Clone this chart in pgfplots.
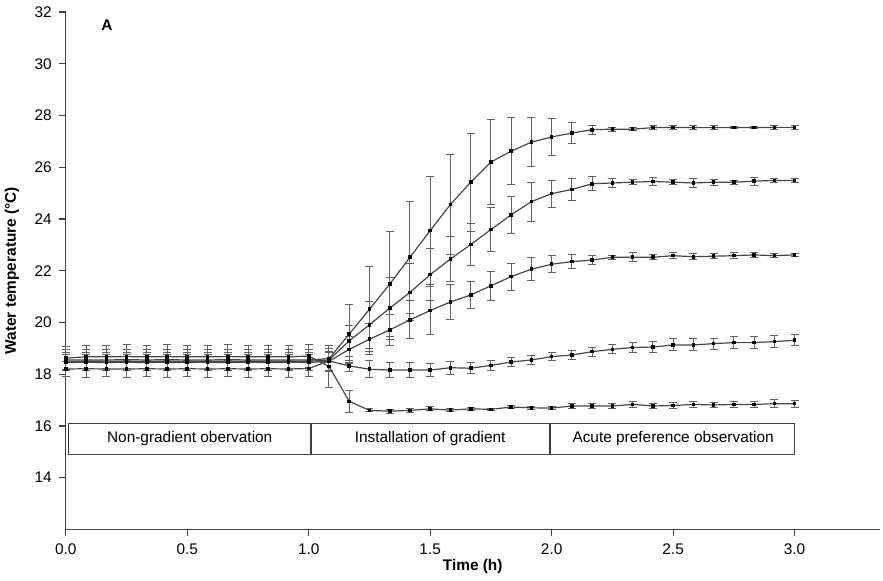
\documentclass[border=0pt]{standalone}
\usepackage{pgfplots}
\usepackage{pgfplotstable}
\pgfplotsset{compat=1.18}
\usepackage{fontspec}
\setmainfont{Liberation Sans}

\pgfplotstableread{
x      a     ea    b     eb    c     ec    d     ed    e     ee
0.0000 18.55 0.40  18.48 0.35  18.45 0.30  18.20 0.30  18.62 0.45
0.0833 18.55 0.40  18.50 0.35  18.46 0.30  18.21 0.32  18.67 0.45
0.1667 18.55 0.40  18.50 0.35  18.45 0.30  18.20 0.30  18.67 0.45
0.2500 18.56 0.40  18.50 0.35  18.46 0.30  18.20 0.32  18.68 0.45
0.3333 18.55 0.40  18.50 0.35  18.45 0.30  18.21 0.30  18.67 0.45
0.4167 18.56 0.40  18.50 0.35  18.46 0.30  18.20 0.32  18.68 0.45
0.5000 18.55 0.40  18.50 0.35  18.45 0.30  18.21 0.30  18.67 0.45
0.5833 18.55 0.40  18.50 0.35  18.46 0.30  18.20 0.32  18.67 0.45
0.6667 18.56 0.40  18.50 0.35  18.45 0.30  18.21 0.30  18.68 0.45
0.7500 18.55 0.40  18.50 0.35  18.46 0.30  18.20 0.32  18.67 0.45
0.8333 18.55 0.40  18.50 0.35  18.45 0.30  18.21 0.30  18.67 0.45
0.9167 18.55 0.40  18.50 0.35  18.46 0.30  18.20 0.32  18.67 0.45
1.0000 18.55 0.40  18.50 0.35  18.45 0.30  18.22 0.30  18.70 0.45
1.0833 18.60 0.50  18.55 0.45  18.50 0.35  18.51 0.35  18.30 0.80
1.1667 19.55 1.13  19.29 0.60  18.96 0.50  18.32 0.20  16.95 0.43
1.2500 20.51 1.65  19.91 0.90  19.35 0.60  18.19 0.32  16.60 0.06
1.3333 21.48 2.04  20.55 1.20  19.71 0.60  18.16 0.29  16.57 0.08
1.4167 22.52 2.17  21.16 1.10  20.10 0.74  18.16 0.28  16.60 0.08
1.5000 23.55 2.09  21.85 1.00  20.46 0.94  18.16 0.26  16.66 0.08
1.5833 24.56 1.95  22.45 0.87  20.79 0.66  18.25 0.25  16.61 0.07
1.6667 25.42 1.90  23.01 0.80  21.06 0.54  18.23 0.21  16.66 0.07
1.7500 26.20 1.65  23.59 0.84  21.42 0.56  18.34 0.19  16.64 0.05
1.8333 26.62 1.30  24.16 0.72  21.77 0.52  18.47 0.17  16.73 0.05
1.9167 26.97 0.95  24.67 0.75  22.06 0.45  18.55 0.19  16.70 0.05
2.0000 27.17 0.71  24.98 0.52  22.25 0.33  18.68 0.17  16.69 0.05
2.0833 27.32 0.40  25.14 0.42  22.35 0.26  18.74 0.17  16.77 0.08
2.1667 27.45 0.17  25.36 0.27  22.41 0.16  18.87 0.17  16.77 0.08
2.2500 27.47 0.08  25.39 0.16  22.52 0.07  18.96 0.17  16.77 0.08
2.3333 27.47 0.05  25.42 0.10  22.52 0.17  19.03 0.20  16.83 0.12
2.4167 27.53 0.08  25.45 0.17  22.52 0.10  19.05 0.22  16.77 0.10
2.5000 27.54 0.08  25.42 0.10  22.58 0.12  19.13 0.23  16.79 0.10
2.5833 27.53 0.08  25.39 0.17  22.54 0.12  19.13 0.23  16.83 0.12
2.6667 27.53 0.08  25.42 0.12  22.56 0.10  19.18 0.21  16.81 0.10
2.7500 27.53 0.05  25.42 0.08  22.58 0.12  19.22 0.23  16.83 0.10
2.8333 27.53 0.05  25.46 0.16  22.61 0.10  19.22 0.22  16.83 0.12
2.9167 27.54 0.08  25.49 0.07  22.58 0.07  19.26 0.23  16.86 0.16
3.0000 27.54 0.08  25.49 0.07  22.61 0.07  19.31 0.22  16.86 0.14
}\data

\pgfplotsset{
  ser/.style={
    color=black!72, line width=0.6pt,
    mark=square*, mark size=0.6pt, mark options={black, solid},
    error bars/.cd, y dir=both, y explicit,
    error bar style={black!62, line width=0.5pt},
    error mark options={rotate=90, mark size=2pt, black!62, line width=0.5pt}
  }
}

\begin{document}
\begin{tikzpicture}
\begin{axis}[
  scale only axis,
  width=406.8pt, height=258.65pt,
  xmin=0, xmax=3.35, ymin=12, ymax=32,
  axis x line*=bottom, axis y line*=left,
  axis line style={black!75, line width=0.6pt},
  xtick={0,0.5,1,1.5,2,2.5,3},
  ytick={14,16,...,32},
  xticklabel style={/pgf/number format/.cd, fixed, fixed zerofill, precision=1},
  tick align=outside, major tick length=3.5pt,
  tick style={black!75, line width=0.6pt},
  tick label style={font=\fontsize{7.7}{9}\selectfont},
  /pgf/number format/assume math mode=true,
  xlabel={\textbf{Time (h)}},
  ylabel={\textbf{Water temperature (°C)}},
  label style={font=\fontsize{7.7}{9}\selectfont},
  xlabel style={at={([yshift=-18.5pt]axis description cs:0.5,0)}, anchor=center},
  ylabel style={at={([xshift=-27pt]axis description cs:0,0.5)}, anchor=center},
  clip=false,
]
\addplot+[ser] table[x=x, y=a, y error=ea] {\data};
\addplot+[ser] table[x=x, y=b, y error=eb] {\data};
\addplot+[ser] table[x=x, y=c, y error=ec] {\data};
\addplot+[ser] table[x=x, y=d, y error=ed] {\data};
\addplot+[ser] table[x=x, y=e, y error=ee] {\data};

\draw[black!75, line width=0.6pt] (axis cs:0.012,14.91) rectangle (axis cs:3.0,16.09);
\draw[black!75, line width=0.6pt] (axis cs:1.009,14.91) -- (axis cs:1.009,16.09);
\draw[black!75, line width=0.6pt] (axis cs:1.993,14.91) -- (axis cs:1.993,16.09);
\node[font=\fontsize{7.7}{9}\selectfont] at (axis cs:0.51,15.5) {Non-gradient obervation};
\node[font=\fontsize{7.7}{9}\selectfont] at (axis cs:1.50,15.5) {Installation of gradient};
\node[font=\fontsize{7.7}{9}\selectfont] at (axis cs:2.50,15.5) {Acute preference observation};
\node[font=\fontsize{7.7}{9}\selectfont\bfseries] at (axis cs:0.169,31.5) {A};

\coordinate (bbl) at (axis cs:-0.271,10.04);
\coordinate (btr) at (axis cs:3.364,32.464);
\end{axis}
\pgfresetboundingbox
\path[use as bounding box] (bbl) rectangle (btr);
\end{tikzpicture}
\end{document}
